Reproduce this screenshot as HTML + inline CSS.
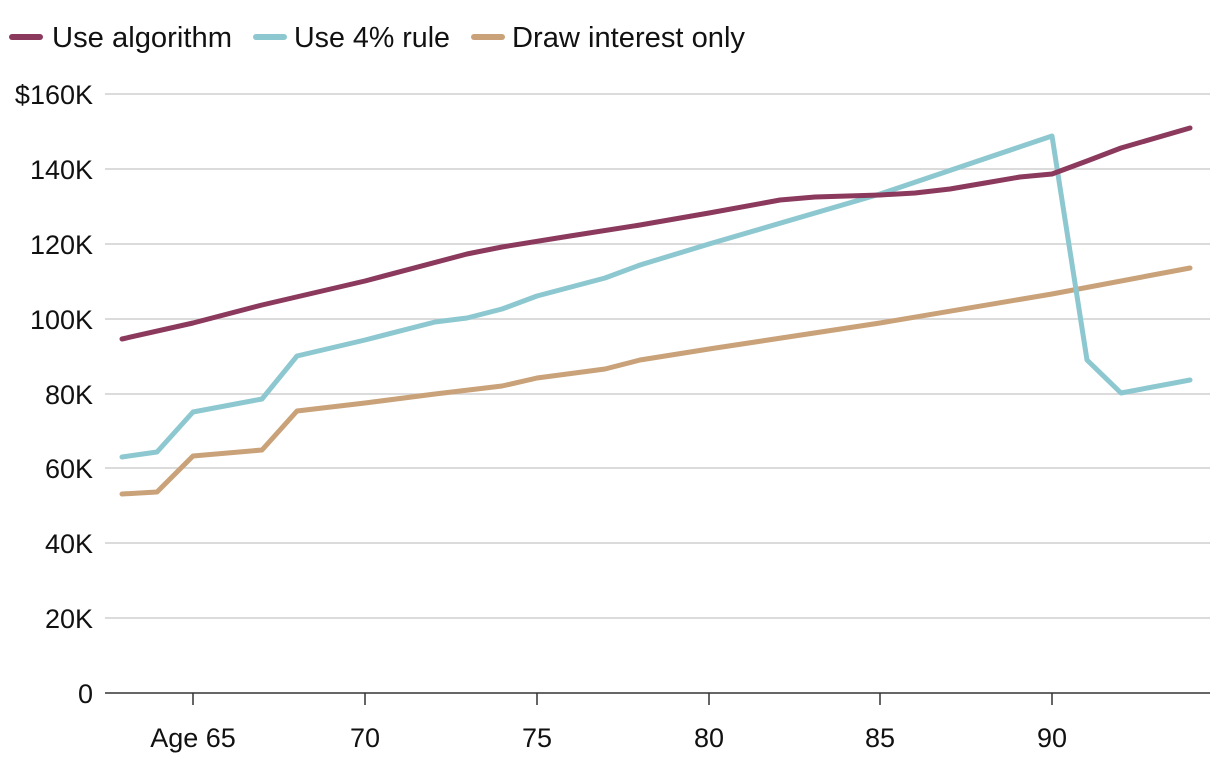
<!DOCTYPE html>
<html><head><meta charset="utf-8"><style>
html,body{margin:0;padding:0;background:#fff;}
svg text{font-family:"Liberation Sans",sans-serif;fill:#111;}
</style></head><body>
<svg width="1220" height="760" xmlns="http://www.w3.org/2000/svg">
<g font-size="29">
<line x1="12" y1="37" x2="40" y2="37" stroke="#8b3a5e" stroke-width="6" stroke-linecap="round"/>
<text x="52" y="47" textLength="180" lengthAdjust="spacingAndGlyphs">Use algorithm</text>
<line x1="256" y1="37" x2="284" y2="37" stroke="#8dc8d0" stroke-width="6" stroke-linecap="round"/>
<text x="294" y="47" textLength="156" lengthAdjust="spacingAndGlyphs">Use 4% rule</text>
<line x1="474" y1="37" x2="502" y2="37" stroke="#c9a27a" stroke-width="6" stroke-linecap="round"/>
<text x="512" y="47" textLength="233" lengthAdjust="spacingAndGlyphs">Draw interest only</text>
</g>
<g stroke="#cfcfcf" stroke-width="1.5">
<line x1="105" y1="94" x2="1210" y2="94"/><line x1="105" y1="169" x2="1210" y2="169"/>
<line x1="105" y1="244" x2="1210" y2="244"/><line x1="105" y1="319" x2="1210" y2="319"/>
<line x1="105" y1="394" x2="1210" y2="394"/><line x1="105" y1="468" x2="1210" y2="468"/>
<line x1="105" y1="543" x2="1210" y2="543"/><line x1="105" y1="618" x2="1210" y2="618"/>
</g>
<line x1="105" y1="693" x2="1210" y2="693" stroke="#333" stroke-width="1.5"/>
<g stroke="#333" stroke-width="1.5">
<line x1="193" y1="693" x2="193" y2="705"/><line x1="365" y1="693" x2="365" y2="705"/>
<line x1="537" y1="693" x2="537" y2="705"/><line x1="709" y1="693" x2="709" y2="705"/>
<line x1="880" y1="693" x2="880" y2="705"/><line x1="1052" y1="693" x2="1052" y2="705"/>
</g>
<g font-size="27" text-anchor="end">
<text x="93" y="104">$160K</text><text x="93" y="179">140K</text><text x="93" y="254">120K</text>
<text x="93" y="329">100K</text><text x="93" y="404">80K</text><text x="93" y="478">60K</text>
<text x="93" y="553">40K</text><text x="93" y="628">20K</text><text x="93" y="703">0</text>
</g>
<g font-size="27" text-anchor="middle">
<text x="193" y="747">Age 65</text><text x="365" y="747">70</text><text x="537" y="747">75</text>
<text x="709" y="747">80</text><text x="880" y="747">85</text><text x="1052" y="747">90</text>
</g>
<g fill="none" stroke-width="5" stroke-linejoin="round" stroke-linecap="round">
<polyline stroke="#c9a27a" points="122,494 157,492 193,456 262,450 297,411 365,403 435,394 502,386 537,378 605,369 640,360 709,349 880,323 1052,294 1190,268"/>
<polyline stroke="#8dc8d0" points="122,457 157,452 193,412 262,399 297,356 365,340 435,322 467,318 502,309 537,296 605,278 640,265 709,244 880,194 1052,136 1087,360 1121,393 1190,380"/>
<polyline stroke="#8b3a5e" points="122,339 193,323 262,305 365,281 467,254 502,247 570,236 640,225 709,213 780,200 815,197 880,195 915,193 950,189 985,183 1020,177 1052,174 1087,161 1121,148 1190,128"/>
</g>
</svg>
</body></html>
